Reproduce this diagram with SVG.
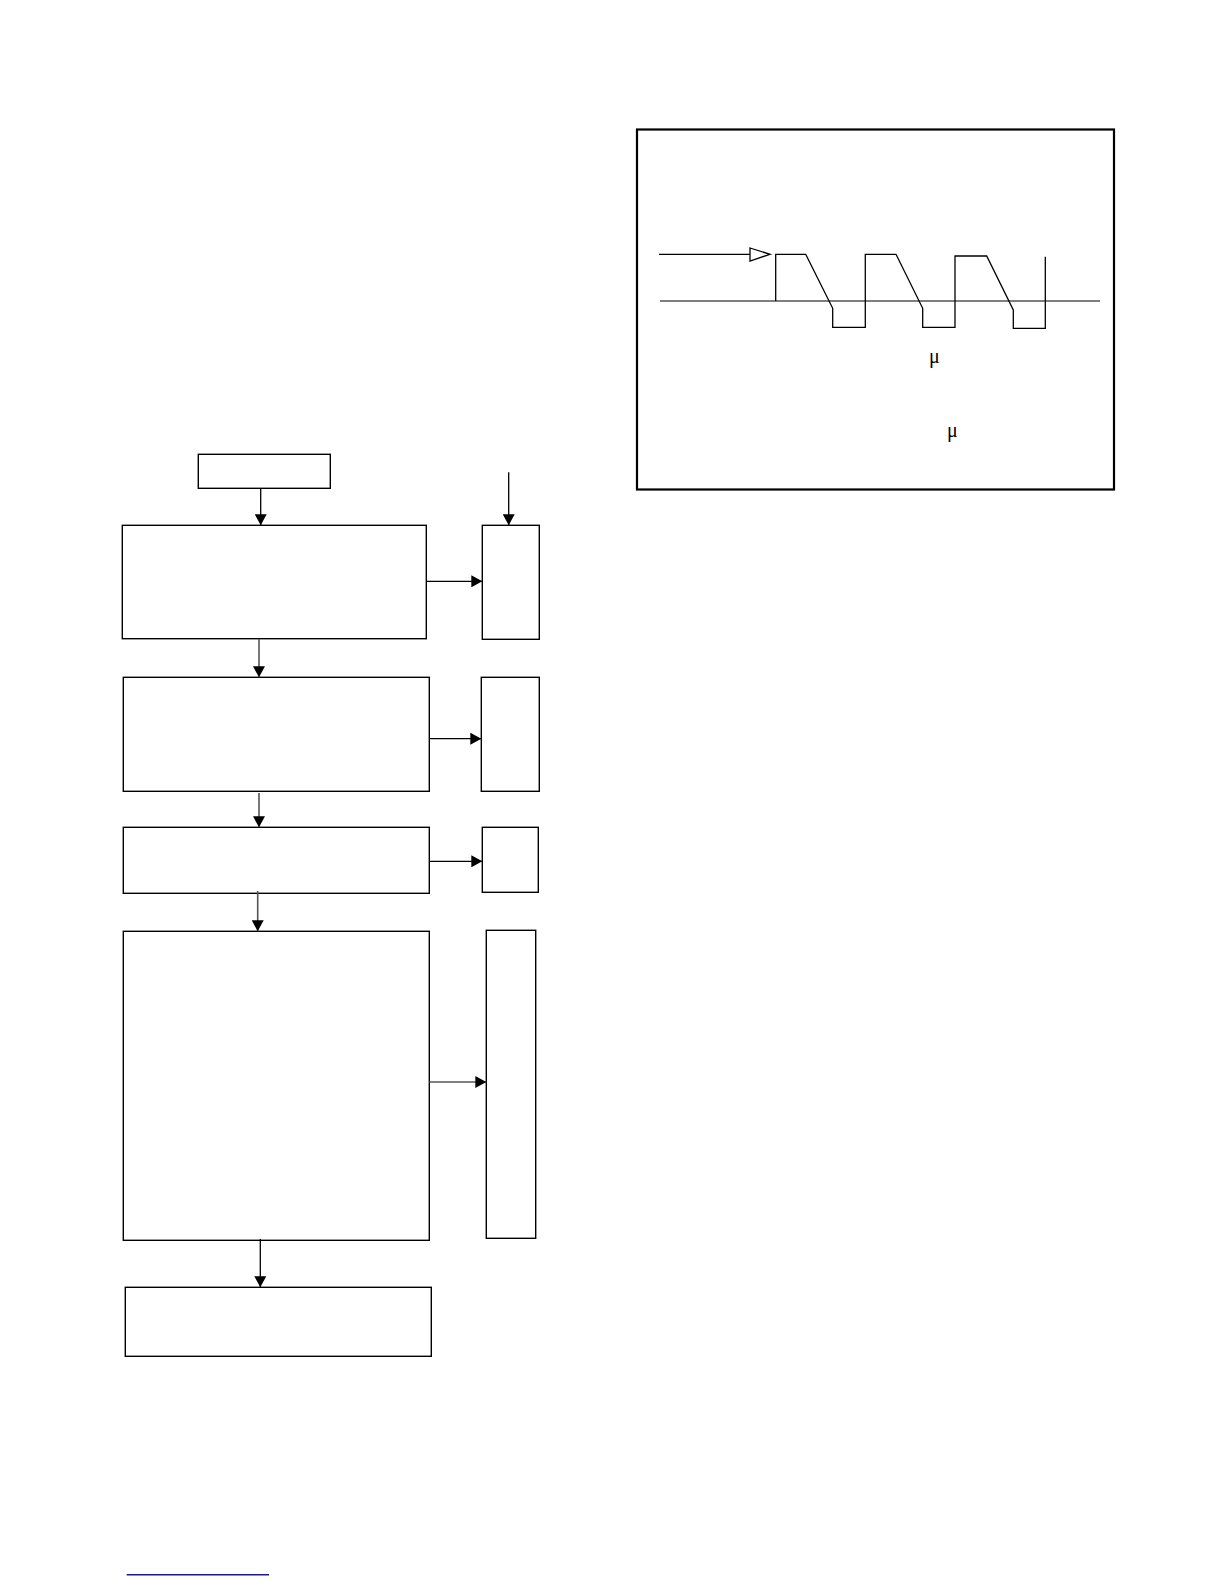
<svg xmlns="http://www.w3.org/2000/svg" width="1224" height="1584" viewBox="0 0 1224 1584">
<style>
.box{fill:#fff;stroke:#000;stroke-width:1.4}
.ln{fill:none;stroke:#000;stroke-width:1.3}
.gray{fill:none;stroke:#555;stroke-width:1.6}
.wave{fill:none;stroke:#000;stroke-width:1.3}
.mu{font-family:"Liberation Serif","Times New Roman",serif;font-size:20px;fill:#000}
</style>
<defs>
<marker id="arr" markerUnits="userSpaceOnUse" markerWidth="12" markerHeight="12" refX="11" refY="6" orient="auto">
<path d="M0,0 L11,6 L0,12 z" fill="#000"/>
</marker>
</defs>
<rect width="1224" height="1584" fill="#fff"/>

<g id="waveform-panel">
<rect x="637" y="129.5" width="477" height="360" fill="#fff" stroke="#000" stroke-width="2.2"/>
<line x1="659" y1="254.3" x2="750" y2="254.3" class="ln"/>
<polygon points="750,248 770,254.3 750,261" fill="#fff" stroke="#000" stroke-width="1.3"/>
<line x1="660" y1="301" x2="1100" y2="301" stroke="#555" stroke-width="1.3"/>
<polyline class="wave" points="775.7,301 775.7,254.3 805.7,254.3 832.7,308.3 832.7,327.3 865.3,327.3 865.3,254.3 896,254.3 922.7,308.3 922.7,327.3 955,327.3 955,256 986.7,256 1013.3,310 1013.3,328.3 1045.3,328.3 1045.3,256.7"/>
<text class="mu" x="929" y="363">μ</text>
<text class="mu" x="947" y="437">μ</text>
</g>

<g id="start"><rect class="box" x="198.3" y="454.3" width="132" height="34"/></g>
<g id="step1"><rect class="box" x="122.3" y="525.3" width="304" height="113.4"/></g>
<g id="side1"><rect class="box" x="482.3" y="525.3" width="57" height="114"/></g>
<g id="step2"><rect class="box" x="123.3" y="677.3" width="306" height="114"/></g>
<g id="side2"><rect class="box" x="481.3" y="677.3" width="58" height="114"/></g>
<g id="step3"><rect class="box" x="123.3" y="827.3" width="306" height="66"/></g>
<g id="side3"><rect class="box" x="482.3" y="827.3" width="56" height="65"/></g>
<g id="step4"><rect class="box" x="123.3" y="931.3" width="306" height="309"/></g>
<g id="side4"><rect class="box" x="486.3" y="930.3" width="49.4" height="308"/></g>
<g id="step5"><rect class="box" x="125.3" y="1287.3" width="306" height="69"/></g>

<g id="connectors">
<line class="ln" x1="260.7" y1="488.3" x2="260.7" y2="525.3" marker-end="url(#arr)"/>
<line class="ln" x1="508.7" y1="472.3" x2="508.7" y2="525.3" marker-end="url(#arr)"/>
<line class="ln" x1="426.3" y1="581.3" x2="482.3" y2="581.3" marker-end="url(#arr)"/>
<line class="gray" x1="259" y1="639" x2="259" y2="677.3" marker-end="url(#arr)"/>
<line class="ln" x1="429.3" y1="738.7" x2="481.3" y2="738.7" marker-end="url(#arr)"/>
<line class="gray" x1="259" y1="793" x2="259" y2="827.3" marker-end="url(#arr)"/>
<line class="ln" x1="429.3" y1="861.3" x2="482.3" y2="861.3" marker-end="url(#arr)"/>
<line class="gray" x1="257.7" y1="891" x2="257.7" y2="931.3" marker-end="url(#arr)"/>
<line class="gray" x1="429.3" y1="1082" x2="486.3" y2="1082" marker-end="url(#arr)"/>
<line class="ln" x1="260.3" y1="1239" x2="260.3" y2="1287.3" marker-end="url(#arr)"/>
</g>

<line x1="126.7" y1="1574.7" x2="269" y2="1574.7" stroke="#1a1a8c" stroke-width="1.6"/>
</svg>
